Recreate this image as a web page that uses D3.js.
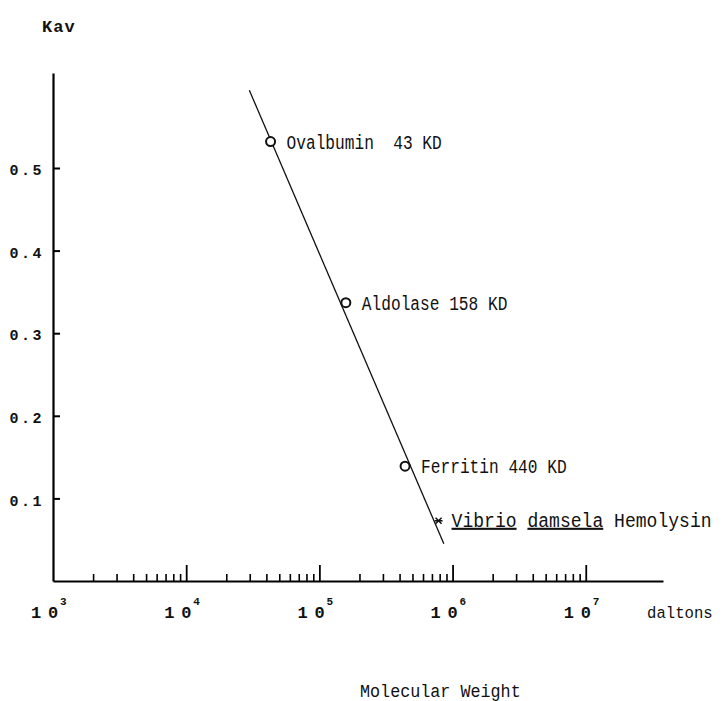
<!DOCTYPE html>
<html>
<head>
<meta charset="utf-8">
<script src="https://cdn.jsdelivr.net/npm/d3@7"></script>
<style>
  body { margin: 0; background: #fff; }
  svg { display: block; }
  .mono { font-family: "Liberation Mono", "DejaVu Sans Mono", monospace; fill: #111; white-space: pre; }
</style>
</head>
<body>
<svg id="chart" width="723" height="701"></svg>
<script>
// standards (gel filtration calibration)
var proteinNames = ["Ovalbumin  43 KD", "Aldolase 158 KD", "Ferritin 440 KD"];
var proteinMW = [43000, 158000, 440000];
var proteinKav = [0.532, 0.337, 0.139];

// sample
var sampleMW = 785000;
var sampleKav = 0.073;

// calibration line end points [MW, Kav]
var fitLine = [[29800, 0.594], [860000, 0.045]];

var yTicks = [0.1, 0.2, 0.3, 0.4, 0.5];
var majorTicks = [1e4, 1e5, 1e6, 1e7];
var decadeLabels = [1e3, 1e4, 1e5, 1e6, 1e7];

var minorTicks = [];
[1e3, 1e4, 1e5, 1e6].forEach(function (d) {
    for (var m = 2; m <= 9; m++) minorTicks.push(m * d);
});

var svg = d3.select("#chart");

var x = d3.scaleLog().domain([1e3, Math.pow(10, 7.58)]).range([53, 663]);
var y = d3.scaleLinear().domain([0, 0.615]).range([581, 73]);

// x axis: minor ticks with domain line
var xMinor = svg.append("g")
    .attr("transform", "translate(0," + y(0) + ")")
    .call(d3.axisBottom(x).tickValues(minorTicks).tickSizeInner(-7).tickSizeOuter(0).tickFormat(""));
var xMajor = svg.append("g")
    .attr("transform", "translate(0," + y(0) + ")")
    .call(d3.axisBottom(x).tickValues(majorTicks).tickSizeInner(-16).tickSizeOuter(0).tickFormat(""));
xMajor.select(".domain").remove();
xMinor.select(".domain").attr("stroke-width", 2.2);
xMinor.selectAll(".tick line").attr("stroke-width", 1.6);
xMajor.selectAll(".tick line").attr("stroke-width", 1.8);

// y axis
var yAxis = svg.append("g")
    .attr("transform", "translate(" + x(1e3) + ",0)")
    .call(d3.axisLeft(y).tickValues(yTicks).tickSizeInner(-7).tickSizeOuter(0).tickPadding(9)
        .tickFormat(d3.format(".1f")));
yAxis.select(".domain").attr("stroke-width", 2.2);
yAxis.selectAll(".tick line").attr("stroke-width", 2);
yAxis.selectAll(".tick text")
    .attr("class", "mono")
    .style("font-size", "15px")
    .style("font-weight", "bold")
    .style("letter-spacing", "2.5px")
    .attr("dy", "0.45em");

// decade labels 10^n
var dec = svg.append("g").attr("class", "mono").style("font-weight", "bold");
decadeLabels.forEach(function (d) {
    var px = x(d);
    var t = dec.append("text").attr("y", 618).style("font-size", "17px");
    t.append("tspan").attr("x", px - 22).text("1");
    t.append("tspan").attr("x", px - 5).text("0");
    dec.append("text")
        .attr("x", px + 7).attr("y", 605)
        .style("font-size", "11px")
        .text(Math.round(Math.log10(d)));
});

function label(txt, px, py, size, sx) {
    return svg.append("text")
        .attr("class", "mono")
        .attr("transform", "translate(" + px + "," + py + ") scale(" + sx + ",1)")
        .style("font-size", size + "px")
        .text(txt);
}

label("daltons", 647, 618, 17, 0.92);
label("Molecular Weight", 360, 697, 18, 0.93);
label("Kav", 42, 32, 17, 1).style("font-weight", "bold").style("letter-spacing", "1px");

// calibration line
svg.append("path")
    .datum(fitLine)
    .attr("fill", "none")
    .attr("stroke", "#111")
    .attr("stroke-width", 1.3)
    .attr("d", d3.line().x(function (d) { return x(d[0]); }).y(function (d) { return y(d[1]); }));

// standards
svg.selectAll("circle.std")
    .data(proteinMW)
    .enter()
    .append("circle")
    .attr("class", "std")
    .attr("cx", function (d) { return x(d); })
    .attr("cy", function (d, i) { return y(proteinKav[i]); })
    .attr("r", 4.5)
    .attr("fill", "#fff")
    .attr("stroke", "#111")
    .attr("stroke-width", 2);

proteinMW.forEach(function (d, i) {
    label(proteinNames[i], x(d) + 16, y(proteinKav[i]) + 7, 21, 0.77);
});

// sample marker
var sx = x(sampleMW), sy = y(sampleKav);
svg.append("path")
    .attr("d", "M" + (sx - 3) + "," + (sy - 3) + "L" + (sx + 3) + "," + (sy + 3) +
        "M" + (sx + 3) + "," + (sy - 3) + "L" + (sx - 3) + "," + (sy + 3) +
        "M" + (sx - 4) + "," + sy + "L" + (sx + 4) + "," + sy)
    .attr("stroke", "#111")
    .attr("stroke-width", 1.5);

var st = svg.append("text")
    .attr("class", "mono")
    .attr("transform", "translate(" + (sx + 13) + "," + (sy + 6) + ") scale(0.86,1)")
    .style("font-size", "21px");
st.append("tspan").style("text-decoration", "underline").text("Vibrio");
st.append("tspan").text(" ");
st.append("tspan").style("text-decoration", "underline").text("damsela");
st.append("tspan").text(" Hemolysin");
</script>
</body>
</html>
